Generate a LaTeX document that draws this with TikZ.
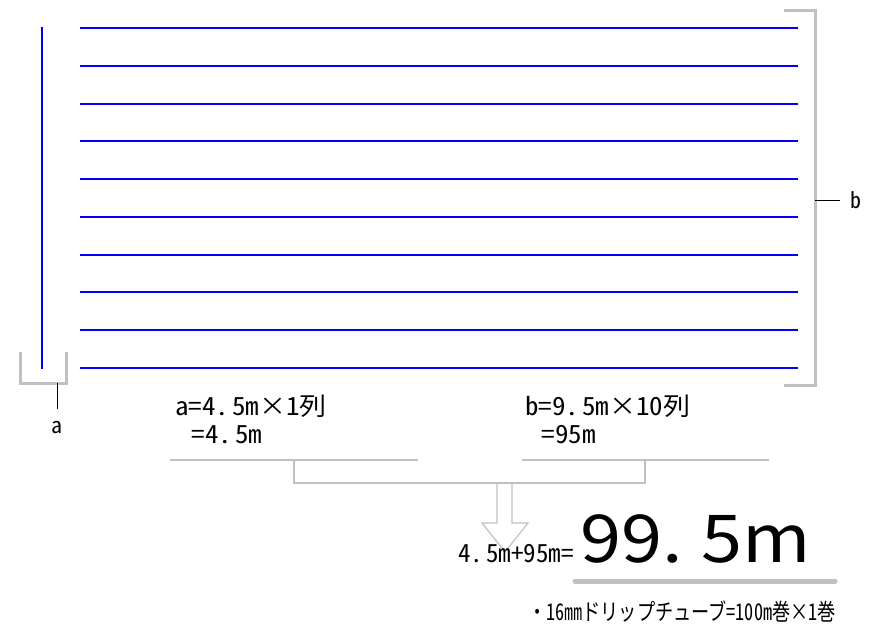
\documentclass[tikz,border=0pt]{standalone}
\usepackage{fontspec}
\newfontfamily\jpfont{Noto Sans CJK JP}[RawFeature=+hwid]
\newfontfamily\jpwide{Noto Sans CJK JP}
\usetikzlibrary{arrows}
\definecolor{bracketgray}{RGB}{192,192,192}

\begin{document}
\begin{tikzpicture}[x=1pt,y=-1pt]
\tikzset{tube/.style = {draw=blue,line width=2pt}}
\tikzset{bracket/.style = {draw=bracketgray,line width=3pt}}
\tikzset{thin gray/.style = {draw=bracketgray,line width=1.2pt}}
\tikzset{tick/.style = {draw=black,line width=1pt}}
\tikzset{label/.style = {font=\jpfont\fontsize{25}{27}\selectfont,inner sep=0pt}}
\useasboundingbox (0,0) rectangle (871,642);

% tubes
\draw[tube] (42,27) -- (42,369);
\foreach \y in {28,66,104,141,179,217,255,292,330,368}
  \draw[tube] (80,\y) -- (798,\y);

% brackets
\draw[bracket] (20,352) -- (20,383) -- (66,383) -- (66,352);
\draw[bracket] (784,11) -- (815,11) -- (815,385) -- (784,385);

% labels
\node[label,font=\jpfont\fontsize{22}{24}\selectfont] (a) at (57,428) {a};
\node[label,font=\jpfont\fontsize{22}{24}\selectfont] (b) at (856,200) {b};
\coordinate (atick) at (57,383);
\coordinate (btick) at (815,200);
\draw[tick] (atick) -- (a.north |- 0,409);
\draw[tick] (btick) -- (840,200);

% sums
\node[label,anchor=base west] (asum) at (175,415) {\scalebox{1.08}[1]{a=4.\kern.12em 5m{\jpwide ×}1列}};
\node[label,anchor=base west] (aval) at (178,443) {\scalebox{1.08}[1]{\ =4.\kern.12em 5m}};
\node[label,anchor=base west] (bsum) at (525,415) {\scalebox{1.08}[1]{b=9.\kern.12em 5m{\jpwide ×}10列}};
\node[label,anchor=base west] (bval) at (528,443) {\scalebox{1.08}[1]{\ =95m}};

%edges
\draw[thin gray] (170,460) -- (418,460);
\draw[thin gray] (522,460) -- (769,460);
\draw[thin gray] (294,460) -- (294,483) -- (645,483) -- (645,460);
\draw[thin gray] (497,483) -- (497,523) -- (482,523) -- (505,552)
  -- (528,523) -- (512,523) -- (512,483);

% total
\node[label,anchor=base east] (formula) at (574,562) {4.\kern.12em 5m+95m=};
\node[label,anchor=base west,font=\jpwide\fontsize{66}{70}\selectfont] (total) at (580,562)
  {\scalebox{1.12}[1]{99.\kern.25em 5m}};
\draw[draw=bracketgray,line width=5pt,line cap=round] (575,581) -- (835,581);

\node[label,anchor=base east,font=\jpfont\fontsize{23}{25}\selectfont] (note) at (836,620)
  {\scalebox{0.79}[1]{{\jpwide ・}16㎜ドリップチューブ=100m巻{\jpwide ×}1巻}};
\end{tikzpicture}
\end{document}
